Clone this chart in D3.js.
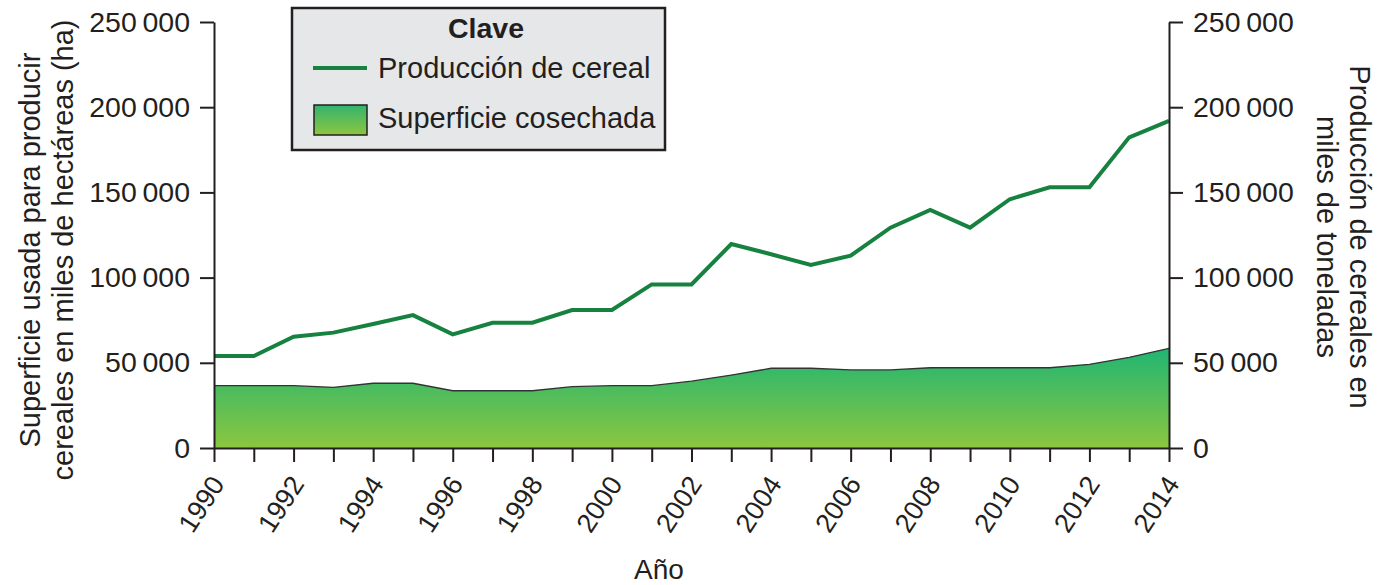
<!DOCTYPE html>
<html>
<head>
<meta charset="utf-8">
<script src="https://cdn.jsdelivr.net/npm/d3@7"></script>
<style>
  html, body { margin: 0; padding: 0; background: #fff; }
  svg { display: block; font-family: "Liberation Sans", Arial, Helvetica, sans-serif; }
</style>
</head>
<body>
<div id="chart"></div>
<script>
// data
const years = d3.range(1990, 2015)
const production = [54000, 54000, 65300, 67700, 72800, 78000, 66700, 73500, 73500, 81000, 81000,
  96000, 96000, 119700, 113700, 107400, 112900, 129300, 139700, 129300, 146000, 153000, 153000, 182300, 192000]
const harvested = [36600, 36600, 36600, 35600, 38000, 38000, 33600, 33600, 33600, 36000, 36600,
  36600, 39200, 42800, 46800, 46800, 45800, 45800, 47100, 47100, 47100, 47100, 49100, 53200, 58500]
const yTicks = [0, 50000, 100000, 150000, 200000, 250000]
const xTicks = d3.range(1990, 2015, 2)

const width = 1392
const height = 585
const margin = { top: 22, right: 223, bottom: 137, left: 214 }
const ink = '#231f20'

const fmt = (v) => d3.format(',')(v).replace(/,/g, '\u2009')

const svg = d3.select('#chart').append('svg')
  .attr('width', width)
  .attr('height', height)

const x = d3.scaleLinear().domain([1990, 2014]).range([margin.left, width - margin.right])
const y = d3.scaleLinear().domain([0, 250000]).range([height - margin.bottom, margin.top])

const defs = svg.append('defs')
const grad = defs.append('linearGradient')
  .attr('id', 'areaGrad')
  .attr('gradientUnits', 'userSpaceOnUse')
  .attr('x1', 0).attr('x2', 0)
  .attr('y1', y(60000)).attr('y2', y(0))
grad.append('stop').attr('offset', '0%').attr('stop-color', '#1db574')
grad.append('stop').attr('offset', '100%').attr('stop-color', '#8cc63f')

const legGrad = defs.append('linearGradient')
  .attr('id', 'legGrad')
  .attr('x1', 0).attr('x2', 0).attr('y1', 0).attr('y2', 1)
legGrad.append('stop').attr('offset', '0%').attr('stop-color', '#33b46f')
legGrad.append('stop').attr('offset', '100%').attr('stop-color', '#8cc63f')

// harvested area
const area = d3.area()
  .x((d, i) => x(years[i]))
  .y0(y(0))
  .y1((d) => y(d))
svg.append('path')
  .datum(harvested)
  .attr('d', area)
  .attr('fill', 'url(#areaGrad)')

svg.append('path')
  .datum(harvested)
  .attr('d', d3.line().x((d, i) => x(years[i])).y((d) => y(d)))
  .attr('fill', 'none')
  .attr('stroke', '#333')
  .attr('stroke-width', 1.3)

// production line
svg.append('path')
  .datum(production)
  .attr('d', d3.line().x((d, i) => x(years[i])).y((d) => y(d)))
  .attr('fill', 'none')
  .attr('stroke', '#17823f')
  .attr('stroke-width', 4)

// axes
const styleAxis = (g) => {
  g.select('.domain').attr('stroke', ink).attr('stroke-width', 2)
  g.selectAll('.tick line').attr('stroke', ink).attr('stroke-width', 2)
  g.selectAll('.tick text').attr('fill', ink).attr('font-size', 28.5)
    .attr('font-family', '"Liberation Sans", Arial, sans-serif')
}

svg.append('g')
  .attr('transform', `translate(${margin.left},0)`)
  .call(d3.axisLeft(y).tickValues(yTicks).tickFormat(fmt).tickSize(14).tickPadding(10).tickSizeOuter(0))
  .call(styleAxis)

svg.append('g')
  .attr('transform', `translate(${width - margin.right},0)`)
  .call(d3.axisRight(y).tickValues(yTicks).tickFormat(fmt).tickSize(14).tickPadding(10).tickSizeOuter(0))
  .call(styleAxis)

const xAxis = svg.append('g')
  .attr('transform', `translate(0,${height - margin.bottom})`)
  .call(d3.axisBottom(x).tickValues(years).tickFormat((d) => (xTicks.includes(d) ? d : '')).tickSize(14).tickSizeOuter(0))
  .call(styleAxis)
xAxis.selectAll('.tick text')
  .attr('font-size', 27)
  .attr('text-anchor', 'end')
  .attr('dy', 0)
  .attr('x', 0).attr('y', 0)
  .attr('transform', 'translate(11,36) rotate(-57)')

// axis titles
svg.append('text')
  .attr('transform', `translate(40,250) rotate(-90)`)
  .attr('text-anchor', 'middle')
  .attr('font-size', 29)
  .attr('fill', ink)
  .selectAll('tspan')
  .data(['Superficie usada para producir', 'cereales en miles de hectáreas (ha)'])
  .join('tspan')
  .attr('x', 0)
  .attr('dy', (d, i) => (i === 0 ? 0 : 33))
  .text((d) => d)

svg.append('text')
  .attr('transform', `translate(1350,237) rotate(90)`)
  .attr('text-anchor', 'middle')
  .attr('font-size', 29)
  .attr('fill', ink)
  .selectAll('tspan')
  .data(['Producción de cereales en', 'miles de toneladas'])
  .join('tspan')
  .attr('x', 0)
  .attr('dy', (d, i) => (i === 0 ? 0 : 33))
  .text((d) => d)

svg.append('text')
  .attr('x', 659)
  .attr('y', 579)
  .attr('text-anchor', 'middle')
  .attr('font-size', 28)
  .attr('fill', ink)
  .text('Año')

// legend
const leg = svg.append('g')
leg.append('rect')
  .attr('x', 292).attr('y', 8).attr('width', 373).attr('height', 142)
  .attr('fill', '#e6e7e8').attr('stroke', ink).attr('stroke-width', 2.5)
leg.append('text')
  .attr('x', 486).attr('y', 38)
  .attr('text-anchor', 'middle')
  .attr('font-size', 28.5).attr('font-weight', 'bold').attr('fill', ink)
  .text('Clave')
leg.append('line')
  .attr('x1', 313).attr('x2', 367).attr('y1', 68).attr('y2', 68)
  .attr('stroke', '#17823f').attr('stroke-width', 4)
leg.append('text')
  .attr('x', 378).attr('y', 78)
  .attr('font-size', 29).attr('fill', ink)
  .text('Producción de cereal')
leg.append('rect')
  .attr('x', 314).attr('y', 105).attr('width', 53).attr('height', 30)
  .attr('fill', 'url(#legGrad)').attr('stroke', ink).attr('stroke-width', 1.5)
leg.append('text')
  .attr('x', 378).attr('y', 128)
  .attr('font-size', 29).attr('fill', ink)
  .text('Superficie cosechada')
</script>
</body>
</html>
